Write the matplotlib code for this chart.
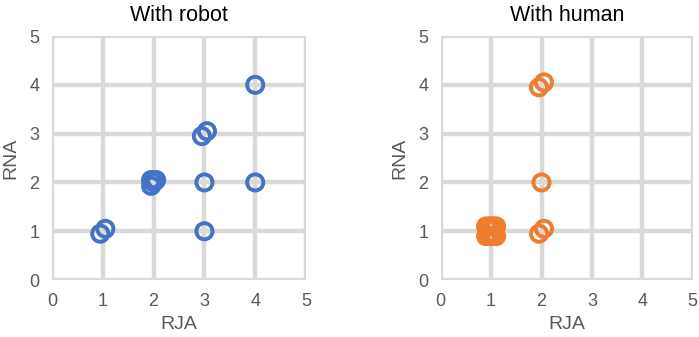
import matplotlib
matplotlib.use("Agg")
import matplotlib.pyplot as plt

robot_rja = [0.95, 1.05, 1.95, 1.95, 2.05, 2.0, 2.95, 3.05, 3.0, 4.0, 3.0, 4.0]
robot_rna = [0.95, 1.05, 1.93, 2.05, 2.05, 2.0, 2.95, 3.05, 2.0, 2.0, 1.0, 4.0]

human_rja = [0.9, 0.97, 1.03, 1.1, 0.9, 0.97, 1.03, 1.1, 1.95, 2.05, 2.0, 1.95, 2.05]
human_rna = [1.1, 1.1, 1.1, 1.1, 0.9, 0.9, 0.9, 0.9, 3.95, 4.05, 2.0, 0.95, 1.05]

titles = ["With robot", "With human"]
colors = ["#4472c4", "#ed7d31"]
ticks = [0, 1, 2, 3, 4, 5]

fig = plt.figure(figsize=(6.99, 3.37), dpi=100)
plt.rcParams['font.family'] = ['Liberation Sans', 'DejaVu Sans']
axes = [fig.add_axes([0.0744, 0.169, 0.3634, 0.724]),
        fig.add_axes([0.6305, 0.169, 0.3605, 0.724])]

for ax, x, y, t, c in zip(axes, [robot_rja, human_rja], [robot_rna, human_rna], titles, colors):
    ax.set_xlim(0, 5)
    ax.set_ylim(0, 5)
    ax.set_xticks(ticks)
    ax.set_yticks(ticks)
    ax.grid(True, color="#d9d9d9", linewidth=3.2, zorder=0)
    ax.set_axisbelow(True)
    for s in ax.spines.values():
        s.set_visible(False)
    ax.tick_params(length=0, labelsize=13, colors="#595959", pad=9)
    ax.scatter(x, y, s=135, facecolors="none", edgecolors=c, linewidths=2.8, zorder=3, clip_on=False)
    ax.set_title(t, fontsize=15.5, pad=11)
    ax.set_xlabel("RJA", fontsize=14, color="#595959", labelpad=5)
    ax.set_ylabel("RNA", fontsize=14, color="#595959", labelpad=7)

fig.savefig("out.png", dpi=100)
